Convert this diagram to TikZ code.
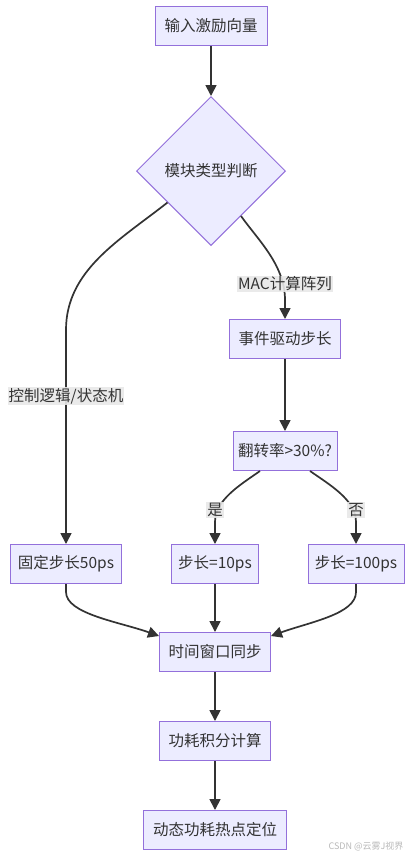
\documentclass[tikz,border=0pt]{standalone}
\usepackage{fontspec}
\setmainfont{Noto Sans CJK SC}
\usetikzlibrary{shapes.geometric,arrows.meta,calc}
\definecolor{nodefill}{HTML}{ECECFF}
\definecolor{nodeborder}{HTML}{9370DB}
\definecolor{edgecol}{HTML}{333333}
\definecolor{lblbg}{HTML}{E8E8E8}
\begin{document}
\begin{tikzpicture}[x=1pt,y=-1pt,
  font=\fontsize{15.5}{18}\selectfont, text=edgecol,
  box/.style={draw=nodeborder, fill=nodefill, line width=1pt, minimum height=39pt, inner sep=0pt},
  dec/.style={diamond, draw=nodeborder, fill=nodefill, line width=1pt, minimum width=149pt, minimum height=149pt, inner sep=0pt},
  arr/.style={draw=edgecol, line width=1.7pt, -{Triangle[length=11pt,width=11pt]}},
  lbl/.style={fill=lblbg, fill opacity=0.9, text opacity=1, inner sep=1pt, text=edgecol}]
\useasboundingbox (0,0) rectangle (410,857);
\fill[white] (0,0) rectangle (410,857);

\node[box, minimum width=112pt] (in) at (211,26) {输入激励向量};
\node[dec] (type) at (211,171) {模块类型判断};
\node[box, minimum width=111pt] (event) at (285,339) {事件驱动步长};
\node[box, minimum width=104pt] (flip) at (285,451) {翻转率>30\%?};
\node[box, minimum width=111pt] (fixed) at (66,564) {固定步长50ps};
\node[box, minimum width=87pt] (s10) at (215,564) {步长=10ps};
\node[box, minimum width=96pt] (s100) at (356,564) {步长=100ps};
\node[box, minimum width=111pt] (sync) at (215,652) {时间窗口同步};
\node[box, minimum width=111pt] (integ) at (215,741) {功耗积分计算};
\node[box, minimum width=143pt] (hot) at (215,830) {动态功耗热点定位};

\draw[arr] (in) -- (type);
\draw[arr] ($(type.west)!0.42!(type.south)$) .. controls (120,240) and (66,270) .. (66,330) -- (fixed.north);
\draw[arr] ($(type.east)!0.6!(type.south)$) .. controls (258,240) and (285,265) .. (285,300) -- (event.north);
\node[lbl] (l1) at (66,396) {控制逻辑/状态机};
\node[lbl] (l2) at (285,284) {MAC计算阵列};
\draw[arr] (event) -- (flip);
\draw[arr] ([xshift=-25pt]flip.south) .. controls (240,485) and (215,500) .. (215,522) -- (s10.north);
\draw[arr] ([xshift=25pt]flip.south) .. controls (330,485) and (356,500) .. (356,522) -- (s100.north);
\node[lbl] (l3) at (215,510) {是};
\node[lbl] (l4) at (356,510) {否};
\draw[arr] (fixed.south) -- (66,592) .. controls (66,614) and (120,622) .. ([yshift=-4pt]sync.north west);
\draw[arr] (s100.south) -- (356,592) .. controls (356,614) and (310,622) .. ([yshift=-4pt]sync.north east);
\draw[arr] (s10) -- (sync);
\draw[arr] (sync) -- (integ);
\draw[arr] (integ) -- (hot);
\node[text=gray!55, font=\fontsize{9}{10}\selectfont, anchor=east] (wm) at (407,846) {CSDN @云雾J视界};
\end{tikzpicture}
\end{document}
